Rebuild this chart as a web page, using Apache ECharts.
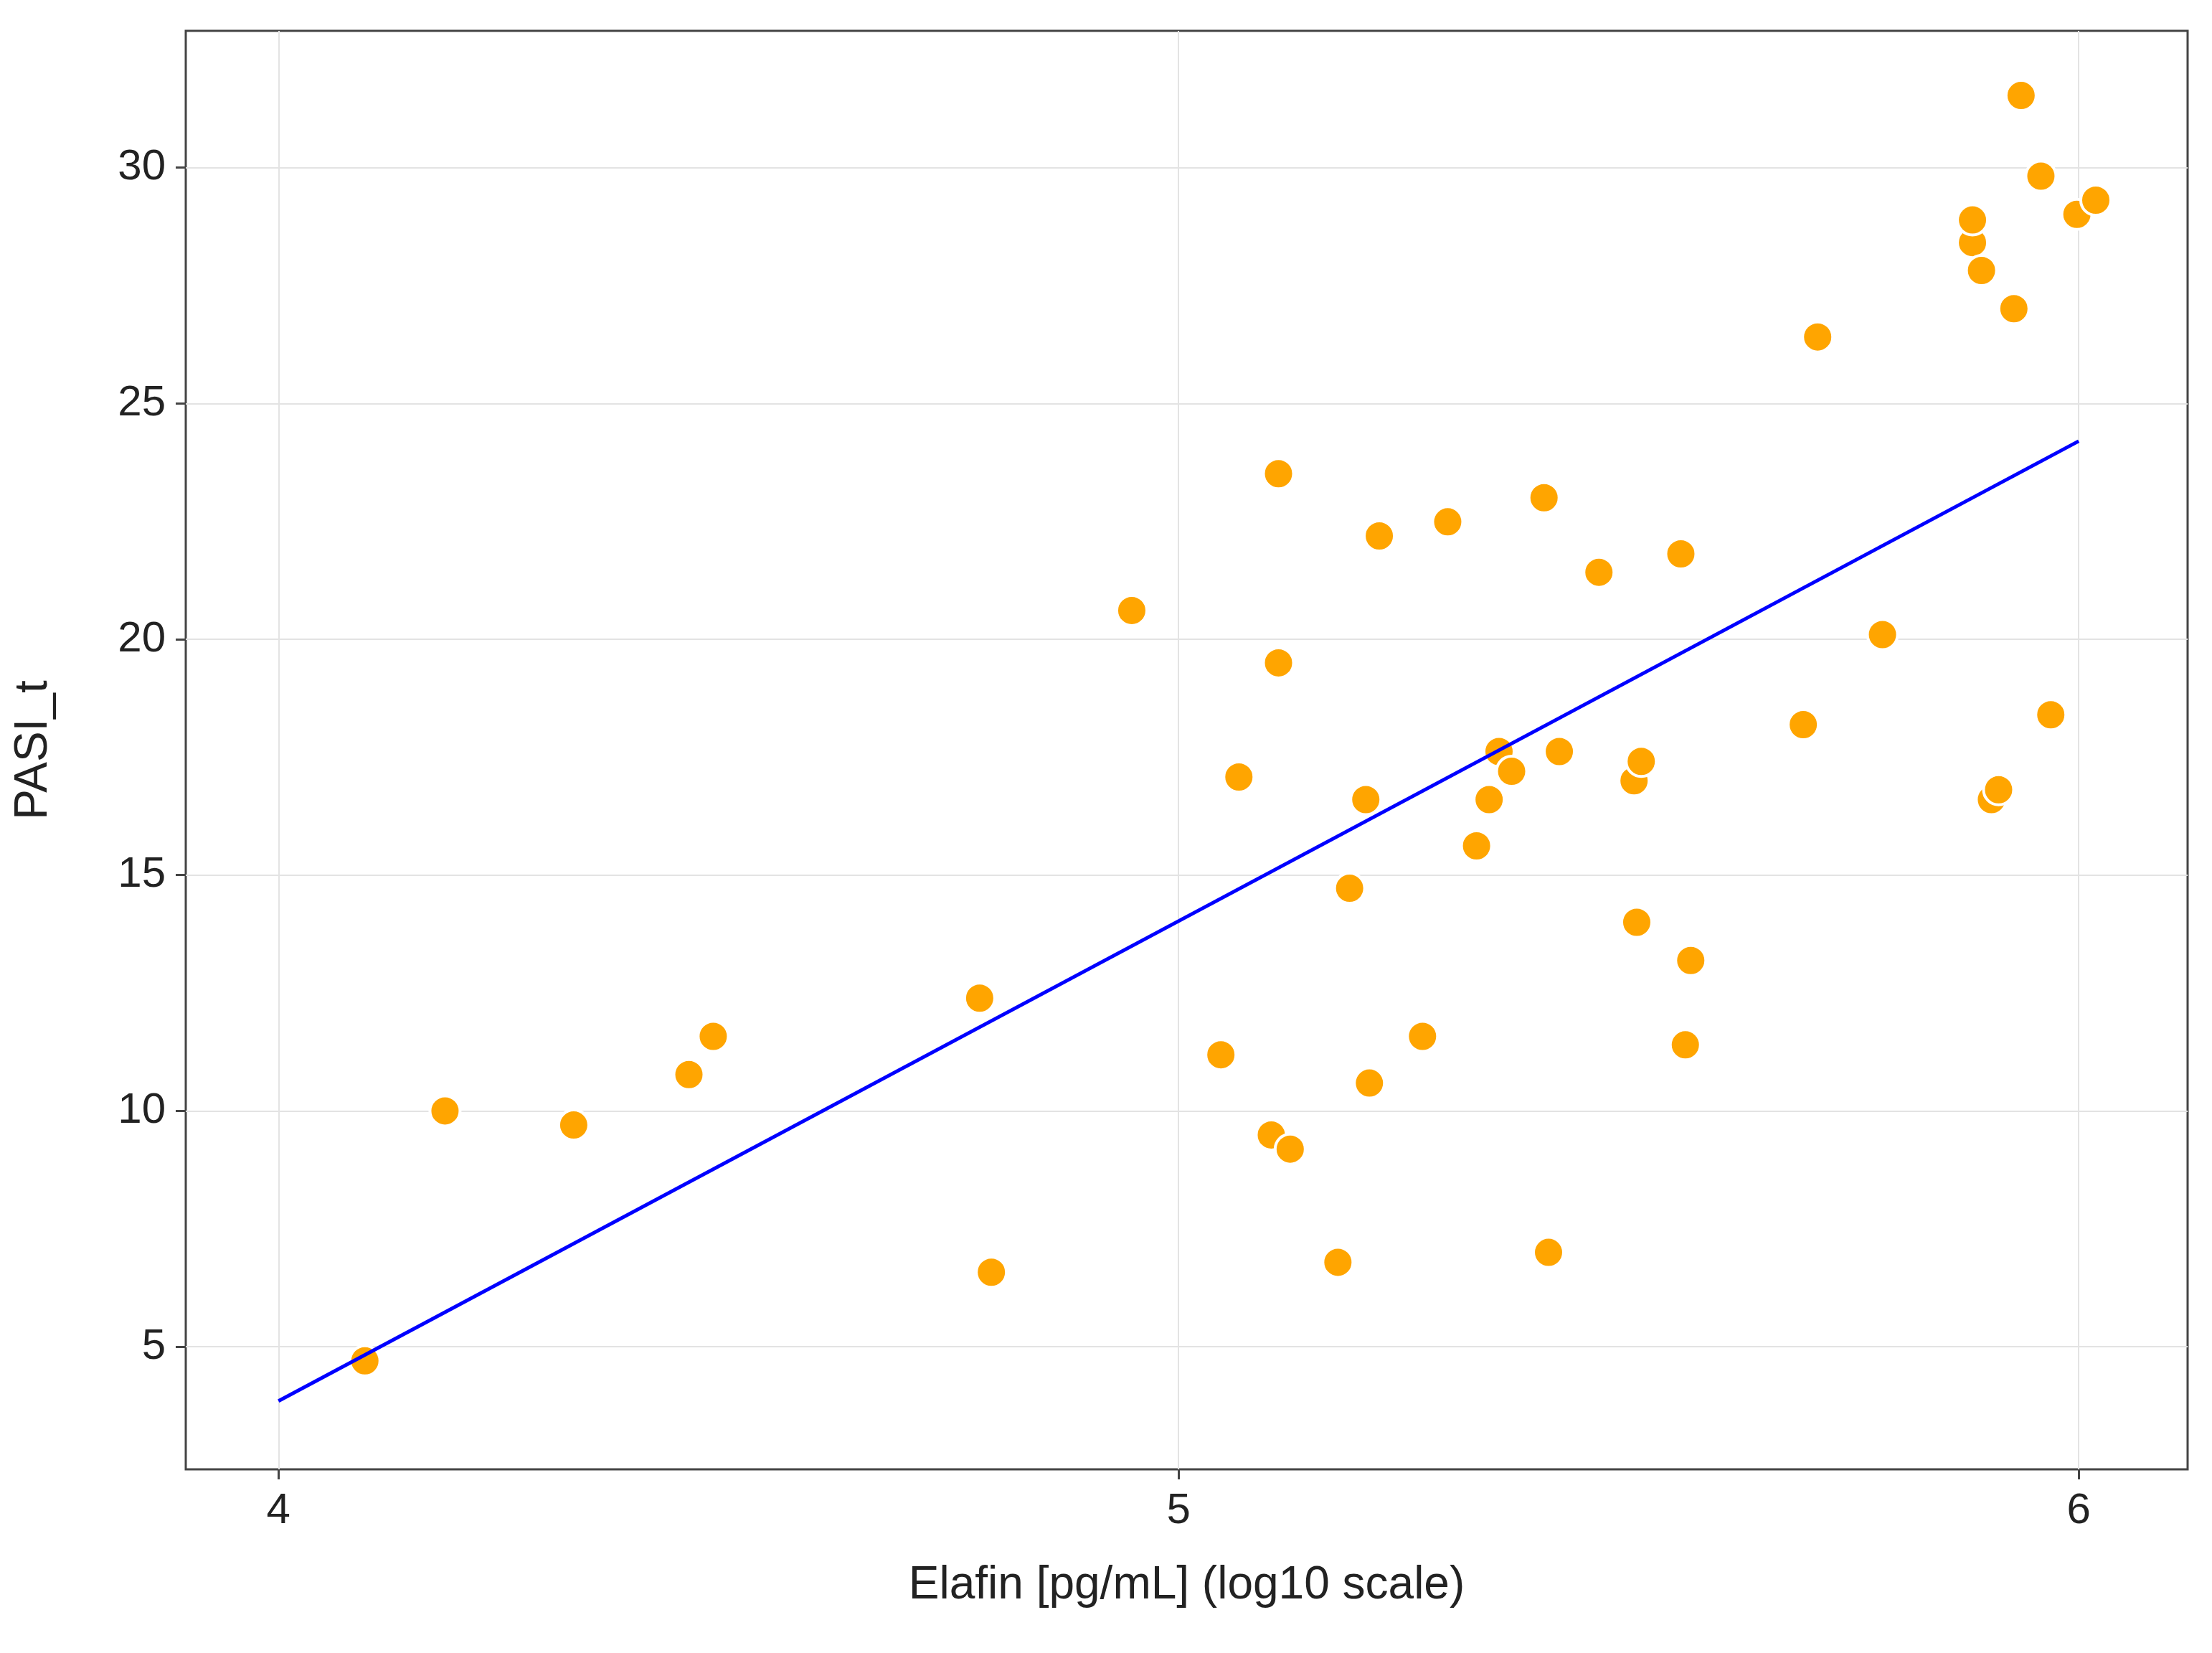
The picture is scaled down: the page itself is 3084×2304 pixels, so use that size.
<!DOCTYPE html>
<html>
<head>
<meta charset="utf-8">
<script src="https://cdn.jsdelivr.net/npm/echarts@6/dist/echarts.min.js"></script>
<style>html,body{margin:0;padding:0;background:#fff}#main{width:3084px;height:2304px}</style>
</head>
<body>
<div id="main"></div>
<script>
// log10 elafin vs PASI_t
var elafin = [4.096,4.185,4.328,4.456,4.483,4.779,4.792,4.948,5.047,5.067,5.103,5.124,5.111,5.111,5.177,5.190,5.208,5.212,5.223,5.271,5.299,5.331,5.345,5.356,5.370,5.406,5.411,5.423,5.467,5.506,5.509,5.514,5.558,5.563,5.569,5.694,5.710,5.782,5.882,5.882,5.892,5.903,5.911,5.928,5.936,5.958,5.969,5.998,6.019];
var pasi = [4.70,10.0,9.70,10.77,11.58,12.39,6.58,20.61,11.19,17.08,9.49,9.19,23.51,19.50,6.79,14.72,16.60,10.59,22.19,11.58,22.49,15.62,16.60,17.62,17.20,23.00,7.00,17.62,21.42,17.0,14.0,17.41,21.81,11.40,13.19,18.19,26.41,20.10,28.41,28.89,27.82,16.60,16.81,27.01,31.53,29.82,18.40,29.01,29.31];
var fitLine = [[4, 3.85], [6, 24.2]];
var xTicks = [4, 5, 6];
var yTicks = [5, 10, 15, 20, 25, 30];

var myChart = echarts.init(document.getElementById('main'));
var font = 'Liberation Sans';
myChart.setOption({
    backgroundColor: '#fff',
    animation: false,
    grid: {left: 259, right: 34, top: 43, bottom: 256, show: true, borderColor: '#444', borderWidth: 3},
    xAxis: {
        type: 'value', min: 3.897, max: 6.121,
        name: 'Elafin [pg/mL] (log10 scale)', nameLocation: 'middle', nameGap: 130,
        nameTextStyle: {fontFamily: font, fontSize: 64, color: '#222'},
        axisLine: {show: false},
        axisTick: {show: true, length: 14, lineStyle: {color: '#444', width: 3}, customValues: xTicks},
        axisLabel: {fontFamily: font, fontSize: 60, color: '#222', margin: 28, customValues: xTicks},
        splitLine: {show: true, lineStyle: {color: '#e3e3e3', width: 2}}
    },
    yAxis: {
        type: 'value', min: 2.4, max: 32.9,
        name: 'PASI_t', nameLocation: 'middle', nameGap: 180,
        nameTextStyle: {fontFamily: font, fontSize: 64, color: '#222'},
        axisLine: {show: false},
        axisTick: {show: true, length: 14, lineStyle: {color: '#444', width: 3}, customValues: yTicks},
        axisLabel: {fontFamily: font, fontSize: 60, color: '#222', margin: 28, customValues: yTicks},
        splitLine: {show: true, lineStyle: {color: '#e3e3e3', width: 2}}
    },
    series: [
        {
            type: 'scatter',
            data: elafin.map(function (v, i) { return [v, pasi[i]]; }),
            symbolSize: 42,
            itemStyle: {color: '#FFA500', borderColor: '#fff', borderWidth: 4, opacity: 1},
            z: 3
        },
        {
            type: 'line', data: fitLine, symbol: 'none',
            lineStyle: {color: '#0000FF', width: 5}, z: 4
        }
    ]
});
</script>
</body>
</html>
